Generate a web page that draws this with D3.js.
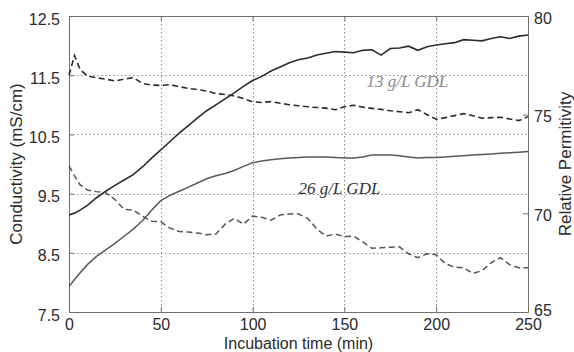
<!DOCTYPE html>
<html lang="en">
<head>
<meta charset="UTF-8">
<title>Conductivity and permittivity</title>
<script src="https://d3js.org/d3.v7.min.js"></script>
<style>
    body { margin: 0; background: #fff; }
    svg { display: block; }
    text { font-family: "Liberation Sans", Arial, sans-serif; fill: #2a2a2a; }
    .note { font-family: "Liberation Serif", "Times New Roman", serif; font-style: italic; }
</style>
</head>
<body>
<script>
// sampling times (min), shared by all four curves
const times = [0, 3, 6, 10, 15, 20, 25, 30, 35, 40, 45, 50, 55, 60, 65, 70, 75, 80, 85, 90, 95,
    100, 105, 110, 115, 120, 125, 130, 135, 140, 145, 150, 155, 160, 165, 170, 175, 180, 185, 190, 195,
    200, 205, 210, 215, 220, 225, 230, 235, 240, 245, 250]

// conductivity (mS/cm), left axis
const cond13 = [9.14, 9.17, 9.22, 9.30, 9.43, 9.54, 9.64, 9.73, 9.82, 9.95, 10.10, 10.24, 10.38, 10.52, 10.65, 10.78, 10.90, 11.00, 11.10, 11.20, 11.31,
    11.41, 11.48, 11.57, 11.64, 11.71, 11.76, 11.79, 11.84, 11.87, 11.90, 11.89, 11.88, 11.92, 11.93, 11.84, 11.95, 11.96, 11.99, 11.92, 11.98,
    12.01, 12.03, 12.05, 12.10, 12.09, 12.08, 12.12, 12.15, 12.12, 12.16, 12.18]
const cond26 = [7.93, 8.05, 8.16, 8.30, 8.44, 8.55, 8.66, 8.78, 8.90, 9.04, 9.22, 9.38, 9.47, 9.54, 9.61, 9.68, 9.75, 9.80, 9.84, 9.89, 9.96,
    10.02, 10.05, 10.07, 10.09, 10.10, 10.11, 10.12, 10.12, 10.12, 10.11, 10.10, 10.10, 10.12, 10.15, 10.15, 10.15, 10.14, 10.12, 10.10, 10.11,
    10.11, 10.12, 10.13, 10.14, 10.15, 10.16, 10.17, 10.18, 10.19, 10.20, 10.21]

// relative permittivity, right axis
const perm13 = [77.0, 78.0, 77.3, 76.95, 76.87, 76.8, 76.71, 76.8, 76.88, 76.58, 76.5, 76.48, 76.52, 76.42, 76.33, 76.27, 76.2, 76.07, 76.02, 75.95, 75.82,
    75.65, 75.62, 75.66, 75.58, 75.5, 75.45, 75.4, 75.36, 75.33, 75.25, 75.4, 75.48, 75.38, 75.32, 75.27, 75.2, 75.15, 75.1, 75.25, 75.0,
    74.77, 74.85, 74.95, 75.05, 74.95, 74.82, 74.85, 74.87, 74.78, 74.7, 74.9]
const perm26 = [72.4, 71.9, 71.45, 71.18, 71.1, 71.05, 70.7, 70.2, 70.17, 69.85, 69.6, 69.57, 69.25, 69.08, 69.05, 69.0, 68.92, 68.95, 69.45, 69.75, 69.45,
    69.86, 69.8, 69.65, 69.92, 69.96, 69.96, 69.75, 69.2, 68.85, 68.95, 68.82, 68.85, 68.55, 68.23, 68.25, 68.28, 68.3, 67.95, 67.75, 67.95,
    67.9, 67.45, 67.27, 67.24, 66.95, 67.1, 67.5, 67.75, 67.4, 67.24, 67.24]

const xTicks = [0, 50, 100, 150, 200, 250]
const leftTicks = [7.5, 8.5, 9.5, 10.5, 11.5, 12.5]
const rightTicks = [65, 70, 75, 80]

const width = 574, height = 352
const m = {top: 16, right: 46, bottom: 40, left: 69}
const iw = width - m.left - m.right, ih = height - m.top - m.bottom

const svg = d3.select("body").append("svg")
    .attr("width", width).attr("height", height)

const x = d3.scaleLinear().domain([0, 250]).range([0, iw])
const yL = d3.scaleLinear().domain([7.5, 12.5]).range([ih, 0])
const yR = d3.scaleLinear().domain([65, 80]).range([ih, 0])

const g = svg.append("g").attr("transform", `translate(${m.left},${m.top})`)

// dotted grid (vertical at x ticks, horizontal at left-axis ticks)
const grid = g.append("g").attr("class", "grid")
grid.selectAll("line.gx").data(xTicks.slice(1, -1)).join("line").attr("class", "gx")
    .attr("x1", d => Math.round(x(d)) + 0.5).attr("x2", d => Math.round(x(d)) + 0.5)
    .attr("y1", 0).attr("y2", ih)
grid.selectAll("line.gy").data(leftTicks.slice(1, -1)).join("line").attr("class", "gy")
    .attr("x1", 0).attr("x2", iw)
    .attr("y1", d => Math.round(yL(d)) + 0.5).attr("y2", d => Math.round(yL(d)) + 0.5)
grid.selectAll("line")
    .attr("stroke", "#8c8c8c").attr("stroke-width", 1).attr("stroke-dasharray", "1.5,2.5")

// axes, ticks inward
const xAxis = g.append("g").attr("transform", `translate(0,${ih})`)
    .call(d3.axisBottom(x).tickValues(xTicks).tickSizeInner(-5).tickSizeOuter(0).tickPadding(10))
const xTop = g.append("g")
    .call(d3.axisTop(x).tickValues(xTicks).tickSizeInner(-5).tickSizeOuter(0).tickFormat(""))
const yAxisL = g.append("g")
    .call(d3.axisLeft(yL).tickValues(leftTicks).tickSizeInner(-5).tickSizeOuter(0).tickPadding(9).tickFormat(d3.format(".1f")))
const yAxisR = g.append("g").attr("transform", `translate(${iw},0)`)
    .call(d3.axisRight(yR).tickValues(rightTicks).tickSizeInner(-5).tickSizeOuter(0).tickPadding(6))

for (const ax of [xAxis, xTop, yAxisL, yAxisR]) {
    ax.select(".domain").attr("stroke", "#6e6e6e")
    ax.selectAll(".tick line").attr("stroke", "#6e6e6e")
    ax.selectAll(".tick text").attr("font-size", 16).attr("fill", "#2a2a2a")
        .attr("font-family", "'Liberation Sans', Arial, sans-serif")
}
yAxisL.selectAll(".tick text").attr("dy", "0.5em")
yAxisR.selectAll(".tick text").attr("dy", d => d === 65 ? "0.2em" : "0.45em")
xAxis.selectAll(".tick text").attr("dy", "0.5em")

// curves
const lineL = d3.line().x((d, i) => x(times[i])).y(d => yL(d))
const lineR = d3.line().x((d, i) => x(times[i])).y(d => yR(d))

g.append("path").datum(cond26).attr("d", lineL)
    .attr("fill", "none").attr("stroke", "#5a5a5a").attr("stroke-width", 1.5)
g.append("path").datum(cond13).attr("d", lineL)
    .attr("fill", "none").attr("stroke", "#2c2c2c").attr("stroke-width", 1.6)
g.append("path").datum(perm26).attr("d", lineR)
    .attr("fill", "none").attr("stroke", "#555").attr("stroke-width", 1.5).attr("stroke-dasharray", "6,3.5")
g.append("path").datum(perm13).attr("d", lineR)
    .attr("fill", "none").attr("stroke", "#2c2c2c").attr("stroke-width", 1.6).attr("stroke-dasharray", "6,3.5")

// curve labels
g.append("text").attr("class", "note").attr("x", x(162)).attr("y", yL(11.3))
    .attr("font-size", 17).style("fill", "#8a8a8a").text("13 g/L GDL")
g.append("text").attr("class", "note").attr("x", x(125)).attr("y", yL(9.5))
    .attr("font-size", 17).style("fill", "#333").text("26 g/L GDL")

// axis titles
svg.append("text").attr("x", m.left + iw / 2).attr("y", height - 3)
    .attr("text-anchor", "middle").attr("font-size", 16).text("Incubation time (min)")
svg.append("text").attr("transform", `translate(22,${m.top + ih / 2}) rotate(-90)`)
    .attr("text-anchor", "middle").attr("font-size", 17).text("Conductivity (mS/cm)")
svg.append("text").attr("transform", `translate(571,${m.top + ih / 2}) rotate(-90)`)
    .attr("text-anchor", "middle").attr("font-size", 17).text("Relative Permitivity")
</script>
</body>
</html>
